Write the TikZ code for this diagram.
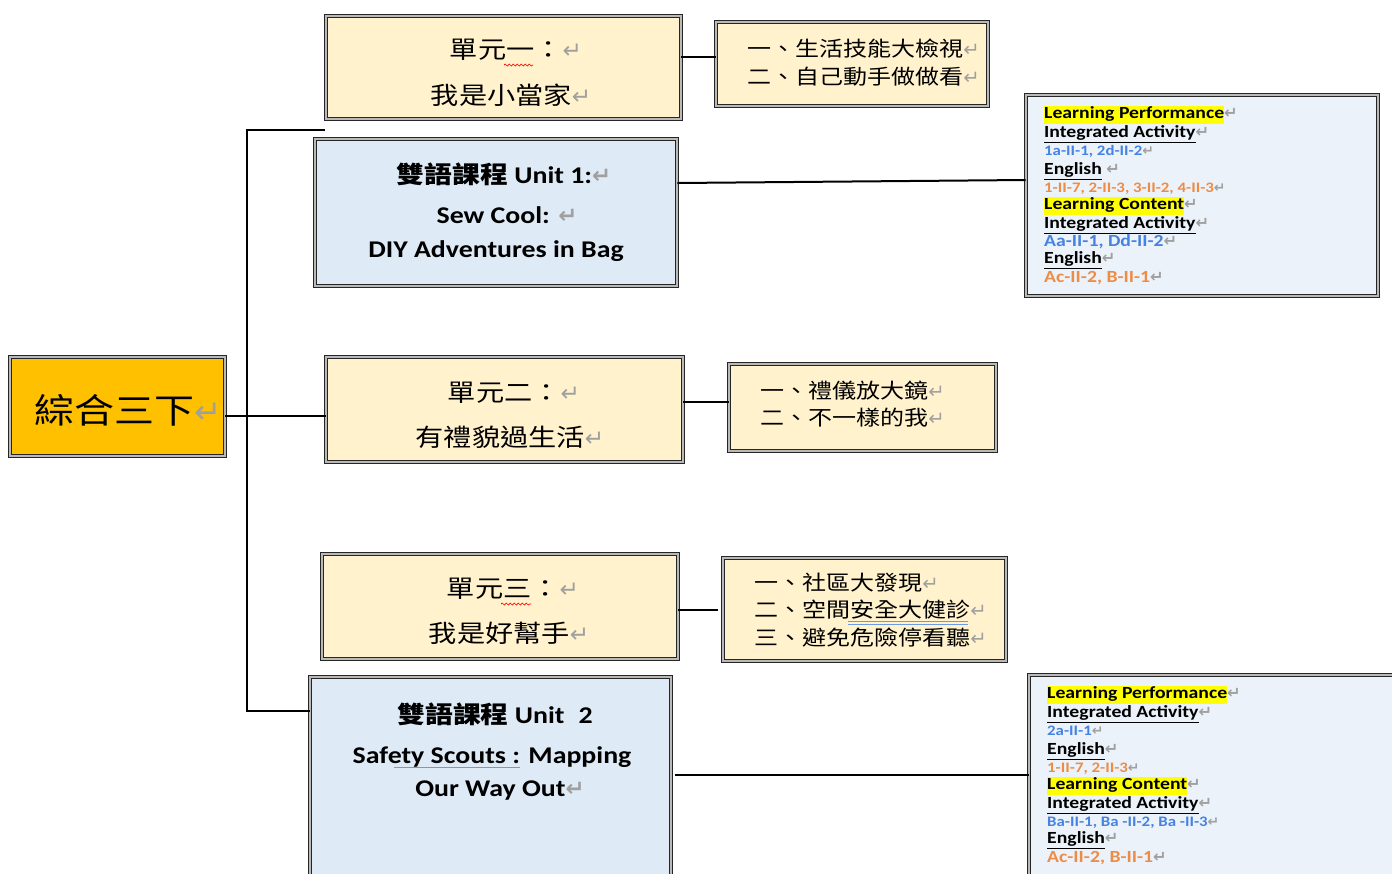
\documentclass[tikz,border=0pt]{standalone}
\usepackage{fontspec}
\usepackage{graphicx}
\usetikzlibrary{decorations.pathmorphing}
\setmainfont{Carlito}[FakeStretch=1.16]
\newfontfamily\cjk{Noto Sans CJK TC}[FakeStretch=1.16]
\newfontfamily\symf{DejaVu Sans}
\definecolor{boxyellow}{HTML}{FFF2CC}
\definecolor{boxblue}{HTML}{DEEBF7}
\definecolor{paleblue}{HTML}{EBF2FA}
\definecolor{rootorange}{HTML}{FFC000}
\definecolor{codeblue}{RGB}{70,130,225}
\definecolor{codeorange}{RGB}{238,140,70}
\definecolor{retgray}{RGB}{160,160,160}
\definecolor{hlyellow}{RGB}{255,255,0}
\newcommand\rmk{{\symf\color{retgray}\scalebox{0.95}{↵}}}
\newcommand\hlt[1]{{\setlength{\fboxsep}{0pt}\colorbox{hlyellow}{\strut #1}}}
\begin{document}
\begin{tikzpicture}[x=1pt,y=-1pt,
  frame/.style={draw=black!85, line width=0.7pt, double=gray!55, double distance=2.6pt, inner sep=0pt},
  ybox/.style={frame, fill=boxyellow},
  bbox/.style={frame, fill=boxblue},
  pbox/.style={frame, fill=paleblue},
  cjkt/.style={font=\cjk\fontsize{24.3}{28}\selectfont, inner sep=0pt},
  cjkl/.style={font=\cjk\fontsize{20.7}{24}\selectfont, inner sep=0pt, anchor=west},
  unitt/.style={font=\bfseries\fontsize{24}{28}\selectfont, inner sep=0pt, anchor=base},
  rt/.style={font=\bfseries\fontsize{17}{18}\selectfont, inner sep=0pt, anchor=base west},
  rs/.style={font=\bfseries\fontsize{14.5}{18}\selectfont, inner sep=0pt, anchor=base west},
  conn/.style={draw=black, line width=2pt},
  squig/.style={draw=red, line width=0.7pt, decorate, decoration={snake, amplitude=1pt, segment length=4pt}},
  blueul/.style={draw=codeblue!80, line width=0.8pt}
]
\useasboundingbox (0,0) rectangle (1392,873);
\fill[white] (0,0) rectangle (1392,873);

% boxes
\node[frame, fill=rootorange, minimum width=215pt, minimum height=99pt] (root) at (117.5,406.5) {};
\node[ybox, minimum width=355pt, minimum height=103pt] (b1) at (503.5,67.5) {};
\node[ybox, minimum width=272pt, minimum height=84pt] (l1) at (852,64) {};
\node[bbox, minimum width=362pt, minimum height=147pt] (u1) at (496,212.5) {};
\node[pbox, minimum width=352pt, minimum height=201pt] (r1) at (1202,195.5) {};
\node[ybox, minimum width=357pt, minimum height=105pt] (b2) at (504.5,409.5) {};
\node[ybox, minimum width=267pt, minimum height=87pt] (l2) at (862.5,407.5) {};
\node[ybox, minimum width=356pt, minimum height=105pt] (b3) at (500,606.5) {};
\node[ybox, minimum width=283pt, minimum height=103pt] (l3) at (864.5,609.5) {};
\node[bbox, minimum width=361pt, minimum height=206pt] (u2) at (490.5,780) {};
\node[pbox, minimum width=369pt, minimum height=213pt] (r2) at (1213.5,781.5) {};

% connectors
\coordinate (tTop) at (247,130);
\coordinate (tBot) at (247,711);
\coordinate (tEnd) at (325,130);
\draw[conn] (tEnd) -- (tTop) -- (tBot) -- (tBot -| u2.west);
\draw[conn] ([yshift=-9.5pt]root.east) -- ([yshift=-9.5pt]root.east -| b2.west);
\draw[conn] ([yshift=10.5pt]b1.east) -- ([yshift=10.5pt]b1.east -| l1.west);
\draw[conn] ([yshift=29.5pt]u1.east) -- ([yshift=15.5pt]r1.west);
\draw[conn] ([yshift=7.5pt]b2.east) -- ([yshift=7.5pt]b2.east -| l2.west);
\draw[conn] ([yshift=-3.5pt]b3.east) -- ([yshift=-3.5pt,xshift=-5pt]b3.east -| l3.west);
\draw[conn] ([yshift=5pt,xshift=4pt]u2.east) -- ([yshift=5pt]u2.east -| r2.west);

% root text
\node[inner sep=0pt, font=\cjk\fontsize{34.5}{38}\selectfont] (roott) at (128,410) {綜合三下\rmk};

% unit 1 box
\node[cjkt] (b1a) at (516,50) {單元一：\rmk};
\node[cjkt] (b1b) at (511,95) {我是小當家\rmk};
\draw[squig] (504,65) -- (533,65);
\node[cjkl] (l1a) at (747,49) {一、生活技能大檢視\rmk};
\node[cjkl] (l1b) at (747,77) {二、自己動手做做看\rmk};

% bilingual unit 1
\node[unitt] (u1a) at (504,183) {{\cjk 雙語課程} Unit 1:\rmk};
\node[unitt] (u1b) at (507,223) {Sew Cool: \rmk};
\node[unitt] (u1c) at (496,257) {DIY Adventures in Bag};

% right box 1
\node[rt] (r1a) at (1044,118.5) {\hlt{Learning Performance}\rmk};
\node[rt] (r1b) at (1044,137.5) {\underline{Integrated Activity}\rmk};
\node[rs, text=codeblue] (r1c) at (1044,155.5) {1a-II-1, 2d-II-2\rmk};
\node[rt] (r1d) at (1044,174.5) {\underline{English} \rmk};
\node[rs, text=codeorange] (r1e) at (1044,192.5) {1-II-7, 2-II-3, 3-II-2, 4-II-3\rmk};
\node[rt] (r1f) at (1044,209.5) {\hlt{Learning Content}\rmk};
\node[rt] (r1g) at (1044,228.5) {\underline{Integrated Activity}\rmk};
\node[rt, text=codeblue] (r1h) at (1044,246.5) {Aa-II-1, Dd-II-2\rmk};
\node[rt] (r1i) at (1044,263.5) {\underline{English}\rmk};
\node[rt, text=codeorange] (r1j) at (1044,282.5) {Ac-II-2, B-II-1\rmk};

% unit 2 box
\node[cjkt] (b2a) at (514,393) {單元二：\rmk};
\node[cjkt] (b2b) at (510,437) {有禮貌過生活\rmk};
\node[cjkl] (l2a) at (760,391) {一、禮儀放大鏡\rmk};
\node[cjkl] (l2b) at (760,418) {二、不一樣的我\rmk};

% unit 3 box
\node[cjkt] (b3a) at (513,589) {單元三：\rmk};
\node[cjkt] (b3b) at (509,633) {我是好幫手\rmk};
\draw[squig] (501,604) -- (531,604);
\node[cjkl] (l3a) at (754,583) {一、社區大發現\rmk};
\node[cjkl] (l3b) at (754,610) {二、空間安全大健診\rmk};
\node[cjkl] (l3c) at (754,638) {三、避免危險停看聽\rmk};
\draw[blueul] (848,621.5) -- (968,621.5);
\draw[blueul] (848,624.5) -- (968,624.5);

% bilingual unit 2
\node[unitt] (u2a) at (495,723) {{\cjk 雙語課程} Unit\hspace{14pt}2};
\node[unitt] (u2b) at (492,763) {Safety Scouts : Mapping};
\node[unitt] (u2c) at (500,796) {Our Way Out\rmk};
\draw[blueul] (394,767) -- (520,767);

% right box 2
\node[rt] (r2a) at (1047,698.5) {\hlt{Learning Performance}\rmk};
\node[rt] (r2b) at (1047,717.5) {\underline{Integrated Activity}\rmk};
\node[rs, text=codeblue] (r2c) at (1047,735.5) {2a-II-1\rmk};
\node[rt] (r2d) at (1047,754.5) {\underline{English}\rmk};
\node[rs, text=codeorange] (r2e) at (1047,772.5) {1-II-7, 2-II-3\rmk};
\node[rt] (r2f) at (1047,789.5) {\hlt{Learning Content}\rmk};
\node[rt] (r2g) at (1047,808.5) {\underline{Integrated Activity}\rmk};
\node[rs, text=codeblue] (r2h) at (1047,826.5) {Ba-II-1, Ba -II-2, Ba -II-3\rmk};
\node[rt] (r2i) at (1047,843.5) {\underline{English}\rmk};
\node[rt, text=codeorange] (r2j) at (1047,862.5) {Ac-II-2, B-II-1\rmk};
\end{tikzpicture}
\end{document}
